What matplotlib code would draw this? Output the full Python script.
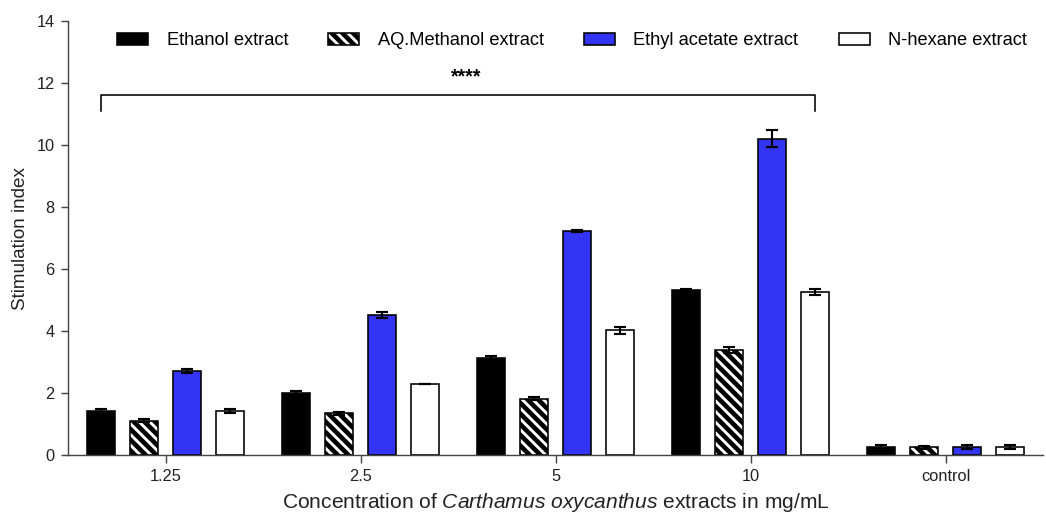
import matplotlib
matplotlib.use("Agg")
import matplotlib.pyplot as plt
import numpy as np

# data
concentrations = ["1.25", "2.5", "5", "10", "control"]
series_names = ["Ethanol extract", "AQ.Methanol extract", "Ethyl acetate extract", "N-hexane extract"]
ethanol = [1.42, 2.00, 3.13, 5.32, 0.25]
aq_methanol = [1.10, 1.35, 1.82, 3.40, 0.25]
ethyl_acetate = [2.70, 4.52, 7.22, 10.20, 0.25]
n_hexane = [1.42, 2.28, 4.02, 5.25, 0.25]
ethanol_err = [0.05, 0.05, 0.05, 0.05, 0.06]
aq_methanol_err = [0.05, 0.05, 0.05, 0.10, 0.05]
ethyl_acetate_err = [0.07, 0.10, 0.03, 0.28, 0.06]
n_hexane_err = [0.05, 0.0, 0.12, 0.10, 0.06]

plt.rcParams['font.family'] = ['Liberation Sans', 'DejaVu Sans']
plt.rcParams['mathtext.fontset'] = 'custom'
plt.rcParams['mathtext.rm'] = 'Liberation Sans'
plt.rcParams['mathtext.it'] = 'Liberation Sans:italic'
plt.rcParams['hatch.linewidth'] = 2.6

DPI = 128
fig = plt.figure(figsize=(1046 / DPI, 517 / DPI), dpi=DPI)
ax = fig.add_axes([68 / 1046, 62 / 517, 975 / 1046, 434 / 517])

x = np.arange(len(concentrations))
largura = 0.143
passo = 0.2205
valores = [ethanol, aq_methanol, ethyl_acetate, n_hexane]
erros = [ethanol_err, aq_methanol_err, ethyl_acetate_err, n_hexane_err]
cores = ['black', 'white', '#3434F4', 'white']
hachuras = [None, '\\\\\\\\', None, None]

for i, (vals, errs) in enumerate(zip(valores, erros)):
    pos = x + (i - 1.5) * passo
    ax.bar(pos, vals, width=largura, color=cores[i], edgecolor='black',
           linewidth=0.9, hatch=hachuras[i], label=series_names[i], zorder=2)
    ax.errorbar(pos, vals, yerr=errs, fmt='none', ecolor='black',
                elinewidth=1.2, capsize=3.6, capthick=1.2, zorder=3)

# colchete de significancia
x_ini = x[0] - 1.5 * passo
x_fim = x[3] + 1.5 * passo
ax.plot([x_ini, x_ini, x_fim, x_fim], [11.1, 11.6, 11.6, 11.1], color='black', lw=0.9)
ax.text(1.54, 11.9, '****', ha='center', va='bottom', fontsize=11, fontweight='bold')

ax.set_xlim(-0.5, 4.5)
ax.set_ylim(0, 14)
ax.set_yticks(range(0, 15, 2))
ax.set_xticks(x)
ax.set_xticklabels(concentrations)
for lado in ['top', 'right']:
    ax.spines[lado].set_visible(False)
for lado in ['left', 'bottom']:
    ax.spines[lado].set_linewidth(0.8)
    ax.spines[lado].set_color('#444444')
ax.tick_params(axis='both', labelsize=9.2, colors='#444444', labelcolor='#222222', width=0.8)
ax.tick_params(axis='y', length=4)
ax.tick_params(axis='x', length=4.5)

ax.set_ylabel('Stimulation index', fontsize=10.6, color='#222222')
ax.set_xlabel('Concentration of $\\it{Carthamus\\ oxycanthus}$ extracts in mg/mL', fontsize=11.8,
              color='#222222', labelpad=4)

ax.legend(loc='center', bbox_to_anchor=(0.517, 0.954), ncol=4, frameon=False, fontsize=10.3,
          handlelength=1.7, handleheight=0.55, handletextpad=1.0, columnspacing=2.2)

fig.savefig('out.png', dpi=DPI)
